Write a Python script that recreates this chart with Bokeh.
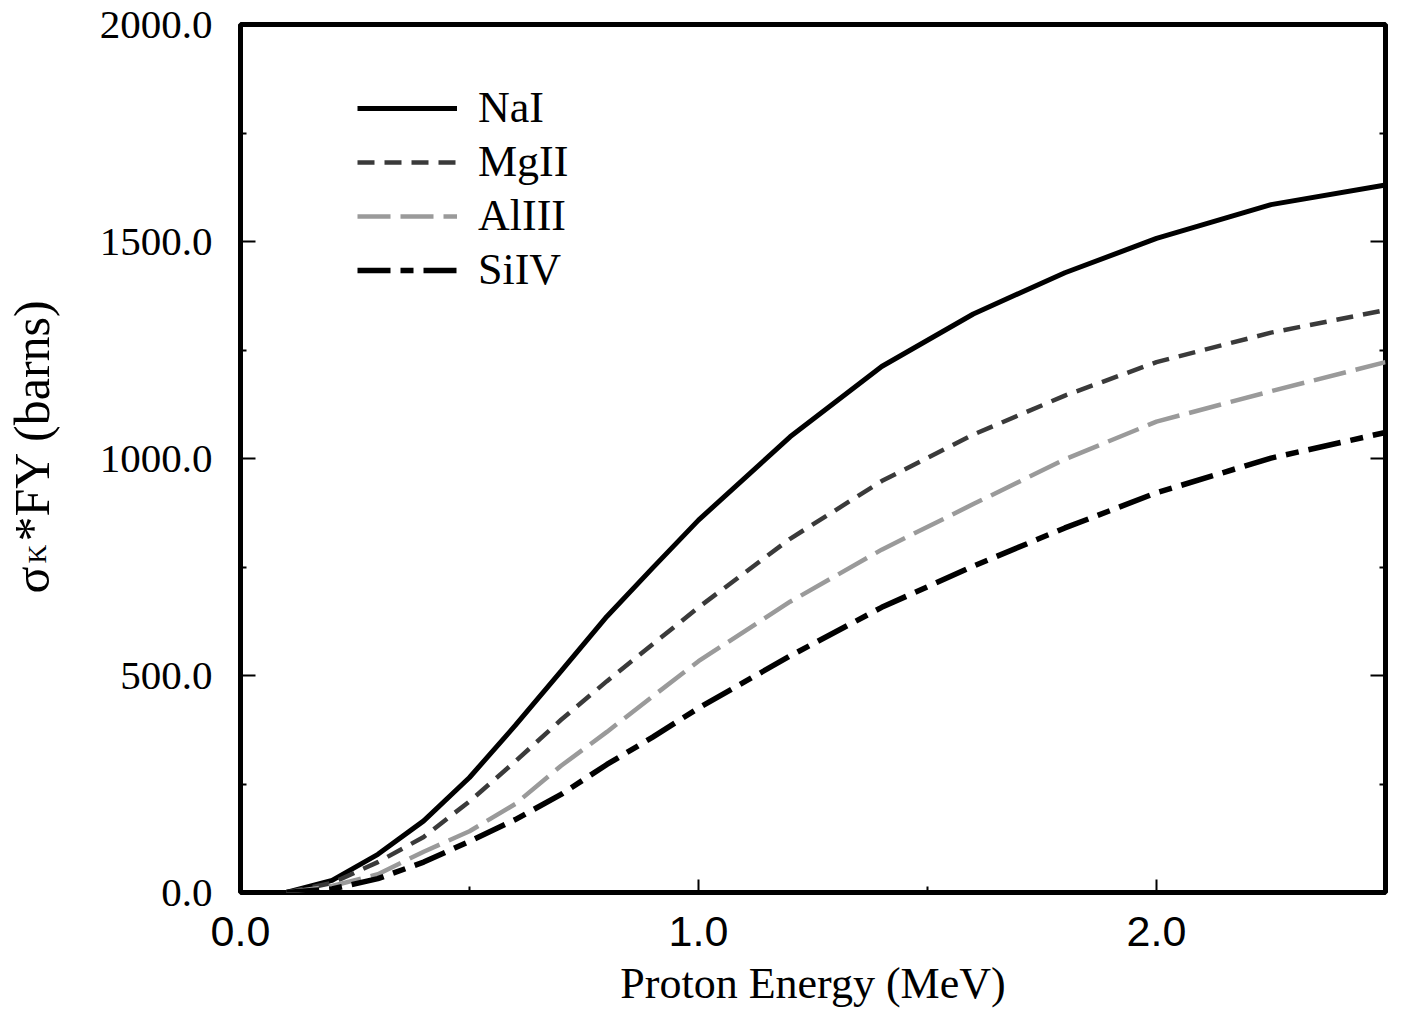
import math
from bokeh.plotting import figure
from bokeh.models import (Range1d, FixedTicker, PrintfTickFormatter, LinearAxis,
                          Legend, LegendItem, Label, CustomJSTickFormatter)
from bokeh.embed import file_html
from bokeh.resources import INLINE

# ---------------- data ----------------
energy = [0.1, 0.2, 0.3, 0.4, 0.5, 0.6, 0.7, 0.8, 0.9, 1.0, 1.2, 1.4, 1.6, 1.8, 2.0, 2.25, 2.5]
nai   = [0, 28, 88, 165, 265, 385, 510, 636, 748, 858, 1050, 1212, 1333, 1428, 1507, 1585, 1630]
mgii  = [0, 22, 70, 128, 210, 302, 398, 487, 572, 657, 815, 948, 1055, 1145, 1222, 1290, 1342]
aliii = [0, 15, 42, 94, 141, 204, 292, 370, 452, 533, 670, 790, 895, 998, 1085, 1155, 1222]
siiv  = [0, 8, 32, 70, 118, 168, 226, 295, 358, 425, 545, 657, 752, 840, 921, 1001, 1060]
series_names = ["NaI", "MgII", "AlIII", "SiIV"]
x_major = [0.0, 1.0, 2.0]
x_minor = [0.5, 1.5, 2.5]
y_major = [0, 500, 1000, 1500, 2000]
y_minor = [250, 750, 1250, 1750]

SERIF = "Liberation Serif"
SANS = "Liberation Sans"

p = figure(width=1391, height=1010, output_backend="svg", toolbar_location=None,
           x_range=Range1d(0, 2.5), y_range=Range1d(0, 2000),
           min_border_left=240, min_border_right=6, min_border_top=24, min_border_bottom=107)
p.background_fill_color = "white"
p.border_fill_color = "white"
p.grid.visible = False
p.outline_line_color = "black"
p.outline_line_width = 5

# axes
xa = p.xaxis[0]
xa.ticker = FixedTicker(ticks=x_major, minor_ticks=x_minor)
xa.formatter = PrintfTickFormatter(format="%.1f")
xa.axis_line_color = None
xa.major_tick_in = 13
xa.major_tick_out = 0
xa.minor_tick_in = 6
xa.minor_tick_out = 0
xa.major_tick_line_width = 2
xa.minor_tick_line_width = 2
xa.major_label_text_font = SANS
xa.major_label_text_font_size = "43px"
xa.major_label_text_color = "black"
xa.major_label_standoff = 24
xa.axis_label = "Proton Energy (MeV)"
xa.axis_label_text_font = SERIF
xa.axis_label_text_font_style = "normal"
xa.axis_label_text_font_size = "44px"
xa.axis_label_text_color = "black"
xa.axis_label_standoff = 10

ya = p.yaxis[0]
ya.ticker = FixedTicker(ticks=y_major, minor_ticks=y_minor)
ya.formatter = PrintfTickFormatter(format="%.1f")
ya.axis_line_color = None
ya.major_tick_in = 15
ya.major_tick_out = 0
ya.minor_tick_in = 6
ya.minor_tick_out = 0
ya.major_tick_line_width = 2
ya.minor_tick_line_width = 2
ya.major_label_text_font = SERIF
ya.major_label_text_font_size = "41px"
ya.major_label_text_color = "black"
ya.major_label_standoff = 28

ra = LinearAxis(ticker=FixedTicker(ticks=y_major, minor_ticks=y_minor),
                formatter=CustomJSTickFormatter(code="return ''"))
ra.axis_line_color = None
ra.major_tick_in = 15
ra.major_tick_out = 0
ra.minor_tick_in = 6
ra.minor_tick_out = 0
ra.major_tick_line_width = 2
ra.minor_tick_line_width = 2
ra.major_label_standoff = 0
p.add_layout(ra, "right")

# curves
r1 = p.line(energy, nai, line_color="black", line_width=5)
r2 = p.line(energy, mgii, line_color="#3a3a3a", line_width=4.5, line_dash="17 10")
r3 = p.line(energy, aliii, line_color="#9a9a9a", line_width=4.5, line_dash="33 10")
r4 = p.line(energy, siiv, line_color="black", line_width=5.5, line_dash="33 10 13 10")

legend = Legend(items=[LegendItem(label=n, renderers=[r]) for n, r in
                       zip(series_names, [r1, r2, r3, r4])],
                location=(117, 597))
legend.label_text_font = SERIF
legend.label_text_font_size = "44px"
legend.label_text_color = "black"
legend.glyph_width = 100
legend.glyph_height = 44
legend.label_height = 44
legend.spacing = 3
legend.label_standoff = 21
legend.padding = 0
legend.margin = 0
legend.border_line_color = None
legend.background_fill_alpha = 0
p.add_layout(legend)

# y axis label: sigma + gap (non-breaking spaces) + "*FY (barns)", with subscript K in the gap
ang = math.pi / 2
lbl_kw = dict(angle=ang, text_font=SERIF, text_color="black", text_align="left",
              text_baseline="alphabetic")
p.add_layout(Label(x=-0.455, y=689, text="σ\u00a0\u00a0*FY (barns)",
                   text_font_size="50px", **lbl_kw), "left")
p.add_layout(Label(x=-0.443, y=758, text="K", text_font_size="26px", **lbl_kw), "left")

open("out.html", "w").write(file_html(p, INLINE))
